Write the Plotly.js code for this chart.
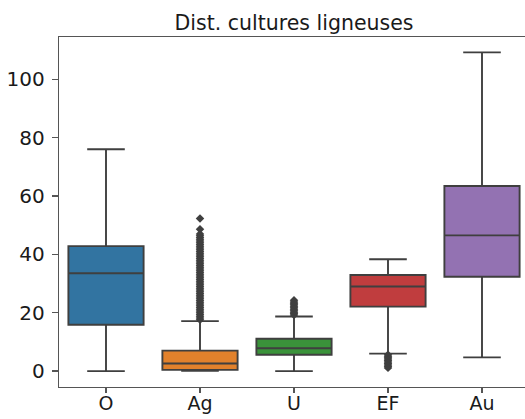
<!DOCTYPE html>
<html>
<head>
<meta charset="utf-8">
<script src="https://cdn.plot.ly/plotly-3.0.1.min.js"></script>
<style>
html,body{margin:0;padding:0;overflow:hidden;width:525px;height:419px;background:#fff;}
#chart{width:529px;height:419px;}
</style>
</head>
<body>
<div id="chart"></div>
<script>
// Categories and box statistics
var categories = ['O', 'Ag', 'U', 'EF', 'Au'];
var colors = ['#3274a1', '#e1812c', '#3a923a', '#c03d3e', '#9372b2'];
var lowerWhisker = [0.0, 0.1, 0.0, 6.0, 4.7];
var q1Values = [15.9, 0.4, 5.6, 22.1, 32.3];
var medianValues = [33.5, 2.6, 7.8, 29.0, 46.5];
var q3Values = [42.8, 7.0, 11.1, 32.9, 63.4];
var upperWhisker = [76.0, 17.1, 18.7, 38.3, 109.2];

// Outliers (estimated)
var outliersO = [];
var outliersAg = [17.6, 18.2, 18.8, 19.4, 20.0, 20.6, 21.2, 21.8, 22.4, 23.0, 23.6, 24.2, 24.8, 25.4, 26.0, 26.6, 27.2, 27.8, 28.4, 29.0, 29.6, 30.2, 30.8, 31.4, 32.0, 32.6, 33.2, 33.8, 34.4, 35.0, 35.6, 36.2, 36.8, 37.4, 38.0, 38.6, 39.2, 39.8, 40.4, 41.0, 41.6, 42.2, 42.8, 43.4, 44.0, 44.6, 45.2, 45.8, 46.4, 47.0, 48.6, 52.3];
var outliersU = [19.2, 19.7, 20.2, 20.7, 21.2, 21.7, 22.2, 22.7, 23.2, 23.7, 24.3];
var outliersEF = [5.6, 5.1, 4.6, 4.1, 3.6, 3.1, 2.6, 2.1, 1.6, 1.1];
var outliersAu = [];
var outlierSets = [outliersO, outliersAg, outliersU, outliersEF, outliersAu];

var yTicks = [0, 20, 40, 60, 80, 100];

var lineColor = '#3f3f3f';
var traces = [];
categories.forEach(function (c, i) {
  traces.push({
    type: 'box',
    x: [c],
    q1: [q1Values[i]],
    median: [medianValues[i]],
    q3: [q3Values[i]],
    lowerfence: [lowerWhisker[i]],
    upperfence: [upperWhisker[i]],
    boxpoints: false,
    width: 0.8,
    whiskerwidth: 0.5,
    fillcolor: colors[i],
    line: {color: lineColor, width: 1.9},
    showlegend: false,
    hoverinfo: 'skip'
  });
});
categories.forEach(function (c, i) {
  var ys = outlierSets[i];
  if (!ys.length) return;
  traces.push({
    type: 'scatter',
    mode: 'markers',
    x: ys.map(function () { return c; }),
    y: ys,
    marker: {symbol: 'diamond', size: 6.5, color: lineColor, line: {width: 0}},
    showlegend: false,
    hoverinfo: 'skip'
  });
});

var font = 'DejaVu Sans, sans-serif';
var layout = {
  width: 529,
  height: 419,
  margin: {l: 59, r: 0, t: 37, b: 32, pad: 0},
  paper_bgcolor: '#ffffff',
  plot_bgcolor: '#ffffff',
  boxmode: 'overlay',
  title: {
    text: 'Dist. cultures ligneuses',
    font: {family: font, size: 20.5, color: '#1a1a1a'},
    x: 0.5, xref: 'paper', xanchor: 'center',
    y: 1 - 23 / 419, yref: 'container', yanchor: 'middle'
  },
  xaxis: {
    type: 'category',
    categoryorder: 'array',
    categoryarray: categories,
    range: [-0.5, 4.5],
    showgrid: false,
    zeroline: false,
    showline: true,
    linecolor: '#555555',
    linewidth: 1.3,
    mirror: true,
    ticks: 'outside',
    ticklen: 5,
    tickwidth: 1.2,
    tickcolor: '#555555',
    ticklabelstandoff: -6,
    tickfont: {family: font, size: 19, color: '#1a1a1a'}
  },
  yaxis: {
    range: [-5.45, 114.45],
    tickvals: yTicks,
    ticktext: yTicks.map(String),
    showgrid: false,
    zeroline: false,
    showline: true,
    linecolor: '#555555',
    linewidth: 1.3,
    mirror: true,
    ticks: 'outside',
    ticklen: 6,
    tickwidth: 1.2,
    tickcolor: '#555555',
    ticklabelstandoff: 3,
    tickfont: {family: font, size: 20, color: '#1a1a1a'}
  }
};

Plotly.newPlot('chart', traces, layout, {staticPlot: true, displayModeBar: false});
</script>
</body>
</html>
